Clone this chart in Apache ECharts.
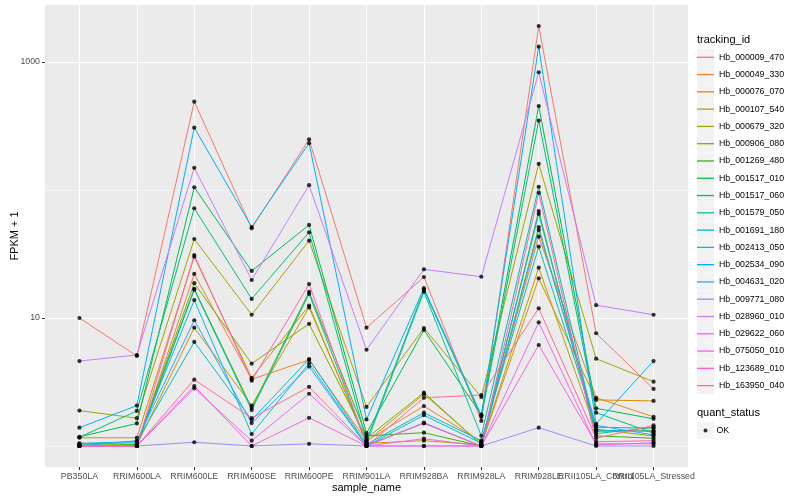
<!DOCTYPE html>
<html>
<head>
<meta charset="utf-8">
<script src="https://cdn.jsdelivr.net/npm/echarts@6/dist/echarts.min.js"></script>
<style>html,body{margin:0;padding:0;background:#fff}#c{width:800px;height:500px}</style>
</head>
<body>
<div id="c"></div>
<script>
// ---- data (FPKM + 1) ----
const samples = ['PB350LA','RRIM600LA','RRIM600LE','RRIM600SE','RRIM600PE','RRIM901LA','RRIM928BA','RRIM928LA','RRIM928LE','RRII105LA_Control','RRII105LA_Stressed'];
const trackingIds = ['Hb_000009_470','Hb_000049_330','Hb_000076_070','Hb_000107_540','Hb_000679_320','Hb_000906_080','Hb_001269_480','Hb_001517_010','Hb_001517_060','Hb_001579_050','Hb_001691_180','Hb_002413_050','Hb_002534_090','Hb_004631_020','Hb_009771_080','Hb_028960_010','Hb_029622_060','Hb_075050_010','Hb_123689_010','Hb_163950_040'];
const hb_000009_470 = [10, 5.05, 490, 50.2, 249, 8.4, 20.9, 1.57, 1910, 7.6, 2.79];
const hb_000049_330 = [1.0, 1.0, 22.1, 3.32, 4.7, 1.1, 2.05, 1.08, 43.2, 2.38, 1.69];
const hb_000076_070 = [1.16, 1.16, 30.1, 3.4, 12.5, 1.05, 1.1, 1.02, 20.4, 2.29, 2.25];
const hb_000107_540 = [1.02, 1.02, 8.4, 2.07, 12.1, 1.08, 2.54, 1.03, 24.7, 1.3, 1.32];
const hb_000679_320 = [1.89, 1.65, 41.4, 10.6, 40.2, 2.02, 8.35, 2.41, 160, 4.81, 3.18];
const hb_000906_080 = [1.0, 1.02, 18.7, 4.4, 9.0, 1.15, 2.61, 1.02, 51.4, 1.35, 1.2];
const hb_001269_480 = [1.0, 1.03, 16.9, 1.98, 16, 1.2, 1.27, 1.0, 68.5, 1.2, 1.15];
const hb_001517_010 = [1.18, 1.5, 105, 23.3, 53.3, 1.26, 8.06, 1.75, 453, 1.97, 1.63];
const hb_001517_060 = [1.17, 1.88, 72, 14.1, 46.7, 1.1, 16.6, 1.69, 348, 1.82, 1.26];
const hb_001579_050 = [1.02, 1.0, 16.6, 1.91, 15.4, 1.05, 16, 1.2, 106, 1.25, 1.4];
const hb_001691_180 = [1.05, 1.08, 6.5, 1.6, 4.78, 1.03, 1.82, 1.1, 36.1, 1.4, 1.38];
const hb_002413_050 = [1.04, 1.06, 13.8, 1.24, 4.43, 1.0, 1.74, 1.05, 65, 1.33, 1.3];
const hb_002534_090 = [1.39, 2.07, 307, 51.4, 232, 1.61, 17.1, 1.74, 1317, 1.49, 4.61];
const hb_004631_020 = [1.0, 1.1, 9.6, 1.51, 4.17, 1.0, 1.52, 1.0, 48.7, 1.45, 1.22];
const hb_009771_080 = [1.0, 1.0, 1.07, 1.0, 1.04, 1.0, 1.0, 1.0, 1.39, 1.0, 1.0];
const hb_028960_010 = [4.61, 5.14, 149, 19.8, 109, 5.65, 24, 21, 831, 12.6, 10.6];
const hb_029622_060 = [1.0, 1.0, 2.82, 1.1, 2.56, 1.0, 1.14, 1.0, 9.25, 1.02, 1.06];
const hb_075050_010 = [1.0, 1.0, 2.94, 1.0, 1.66, 1.0, 1.0, 1.0, 6.15, 1.04, 1.04];
const hb_123689_010 = [1.0, 1.0, 31, 3.24, 18.4, 1.02, 1.5, 1.0, 95, 1.08, 1.1];
const hb_163950_040 = [1.0, 1.0, 3.3, 1.65, 2.9, 1.0, 2.38, 2.5, 11.9, 1.15, 1.45];
const yMajorTicks = [10, 1000];
const yMinorTicks = [1, 100];

const seriesValues = [hb_000009_470, hb_000049_330, hb_000076_070, hb_000107_540, hb_000679_320, hb_000906_080, hb_001269_480, hb_001517_010, hb_001517_060, hb_001579_050, hb_001691_180, hb_002413_050, hb_002534_090, hb_004631_020, hb_009771_080, hb_028960_010, hb_029622_060, hb_075050_010, hb_123689_010, hb_163950_040];

// ---- styles ----
const palette = ['#F8766D','#EA8331','#D89000','#C09B00','#A3A500','#7CAE00','#39B600','#00BB4E','#00BF7D','#00C1A3','#00BFC4','#00BAE0','#00B0F6','#35A2FF','#9590FF','#C77CFF','#E76BF3','#FA62DB','#FF62BC','#FF6C91'];
const FONT = 'Liberation Sans, Arial, Helvetica, sans-serif';
const lg = Math.log10;
// y extent: ggplot 5% expansion of log10 range
const allVals = [].concat(...seriesValues);
const lmin = Math.min(...allVals.map(lg)), lmax = Math.max(...allVals.map(lg));
const rng = lmax - lmin;
const yMin = lmin - 0.05 * rng, yMax = lmax + 0.05 * rng;
const xMin = -0.6, xMax = samples.length - 1 + 0.6;
const idx = samples.map((_, i) => i);
const evenIdx = idx.filter(i => i % 2 === 0), oddIdx = idx.filter(i => i % 2 === 1);

const series = seriesValues.map((vals, s) => ({
  name: trackingIds[s],
  type: 'line',
  data: vals.map((v, i) => [i, lg(v)]),
  showSymbol: false,
  color: palette[s],
  lineStyle: { width: 1, color: palette[s] },
  z: 2,
  silent: true
}));
const pts = [];
seriesValues.forEach(vals => vals.forEach((v, i) => pts.push([i, lg(v)])));
series.push({
  name: 'OK', type: 'scatter', data: pts, symbol: 'circle', symbolSize: 4.2,
  itemStyle: { color: '#000' }, z: 5, silent: true
});

const xLabelStyle = { margin: 5, fontSize: 8.8, color: '#4D4D4D', fontFamily: FONT, hideOverlap: false,
  showMinLabel: true, showMaxLabel: true, formatter: v => samples[Math.round(v)] || '' };
const legTop = 48.8, legLeft = 697, legPitch = 17.28;
const option = {
  animation: false,
  backgroundColor: '#fff',
  textStyle: { fontFamily: FONT },
  title: [
    { text: 'tracking_id', left: legLeft, top: 34.5, padding: 0,
      textStyle: { fontSize: 11, fontWeight: 'normal', color: '#000', fontFamily: FONT } },
    { text: 'quant_status', left: legLeft, top: 407, padding: 0,
      textStyle: { fontSize: 11, fontWeight: 'normal', color: '#000', fontFamily: FONT } }
  ],
  grid: { left: 45, right: 112, top: 5, bottom: 33, show: true, backgroundColor: '#EBEBEB', borderWidth: 0,
    containLabel: false, outerBoundsMode: 'none' },
  xAxis: [{
    type: 'value', min: xMin, max: xMax, position: 'bottom',
    name: 'sample_name', nameLocation: 'middle', nameGap: 15, nameMoveOverlap: false,
    nameTextStyle: { fontSize: 11, color: '#000', fontFamily: FONT },
    axisLine: { show: false, onZero: false },
    axisTick: { show: true, length: 3, customValues: idx, lineStyle: { color: '#333333', width: 1 } },
    axisLabel: Object.assign({ customValues: evenIdx }, xLabelStyle),
    splitLine: { show: true, lineStyle: { color: '#FFFFFF', width: 1.07 } }
  }, {
    type: 'value', min: xMin, max: xMax, position: 'bottom', offset: 0,
    axisLine: { show: false, onZero: false },
    axisTick: { show: false, customValues: oddIdx },
    axisLabel: Object.assign({ customValues: oddIdx }, xLabelStyle),
    splitLine: { show: false }
  }],
  yAxis: [{
    type: 'value', min: yMin, max: yMax,
    name: 'FPKM + 1', nameLocation: 'middle', nameGap: 25, nameRotate: 90, nameMoveOverlap: false,
    nameTextStyle: { fontSize: 11, color: '#000', fontFamily: FONT },
    axisLine: { show: false, onZero: false },
    axisTick: { show: true, length: 3, customValues: yMajorTicks.map(lg), lineStyle: { color: '#333333', width: 1 } },
    axisLabel: { customValues: yMajorTicks.map(lg), formatter: v => String(Math.round(Math.pow(10, v))), margin: 5,
      fontSize: 8.8, color: '#4D4D4D', fontFamily: FONT },
    splitLine: { show: true, lineStyle: { color: '#FFFFFF', width: 1.07 } }
  }, {
    type: 'value', min: yMin, max: yMax, position: 'left',
    axisLine: { show: false, onZero: false },
    axisTick: { show: false, customValues: yMinorTicks.map(lg) },
    axisLabel: { show: false, customValues: yMinorTicks.map(lg) },
    splitLine: { show: true, lineStyle: { color: '#FFFFFF', width: 0.53 } }
  }],
  legend: [
    { data: trackingIds, orient: 'vertical', left: legLeft, top: legTop, padding: 0, itemGap: legPitch - 17,
      icon: 'rect', itemWidth: 17, itemHeight: 17, formatter: () => '', selectedMode: false,
      itemStyle: { color: '#F2F2F2', borderWidth: 0 }, textStyle: { fontSize: 8.8 }, z: 3 },
    { data: trackingIds, orient: 'vertical', left: legLeft, top: legTop, padding: 0, itemGap: legPitch - 17,
      icon: 'path://M0,0 H17 V1.3 H0 Z', itemWidth: 17, itemHeight: 17, selectedMode: false,
      itemStyle: { borderWidth: 0 }, lineStyle: { width: 0 },
      textStyle: { fontSize: 8.8, color: '#000', fontFamily: FONT, lineHeight: 17 }, z: 4 },
    { data: ['OK'], orient: 'vertical', left: legLeft, top: 422, padding: 0, icon: 'rect', itemWidth: 17, itemHeight: 17,
      formatter: () => '', selectedMode: false, itemStyle: { color: '#F2F2F2', borderWidth: 0 }, z: 3 },
    { data: ['OK'], orient: 'vertical', left: legLeft + 6.5, top: 422, padding: 0, icon: 'circle', itemWidth: 4, itemHeight: 4,
      selectedMode: false, itemStyle: { color: '#000', borderWidth: 0 },
      textStyle: { fontSize: 8.8, color: '#000', fontFamily: FONT, lineHeight: 17, padding: [0, 0, 0, 4] }, z: 4 }
  ],
  series: series
};
const chart = echarts.init(document.getElementById('c'), null, { renderer: 'canvas' });
chart.setOption(option);
</script>
</body>
</html>
